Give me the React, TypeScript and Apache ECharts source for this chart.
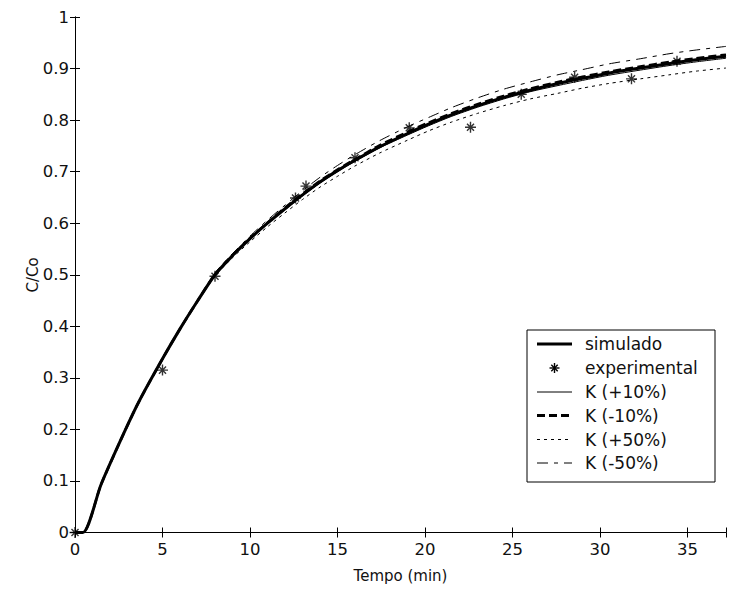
import React, { useEffect, useRef } from "react";
import * as echarts from "echarts";

// Time grid (min) used for the model curves
const tempo = [0, 0.45, 1.5, 2.85, 3.7, 5, 6, 7, 8, 9, 10, 11, 12, 13, 14, 15, 16, 17.4, 19, 20.2, 21.5, 23, 24.5, 26, 27.6, 29, 30.5, 32.3, 34, 35.5, 37.2];
const simulado = [0, 0, 0.094, 0.197, 0.257, 0.337, 0.395, 0.449, 0.5, 0.537, 0.57, 0.6, 0.628, 0.655, 0.68, 0.702, 0.722, 0.748, 0.774, 0.792, 0.81, 0.828, 0.844, 0.858, 0.871, 0.881, 0.891, 0.901, 0.91, 0.917, 0.924];
const kMais10 = [0, 0, 0.094, 0.197, 0.257, 0.337, 0.395, 0.449, 0.5, 0.536, 0.569, 0.599, 0.626, 0.653, 0.678, 0.7, 0.72, 0.746, 0.771, 0.789, 0.807, 0.825, 0.841, 0.855, 0.867, 0.877, 0.887, 0.897, 0.906, 0.913, 0.92];
const kMenos10 = [0, 0, 0.094, 0.197, 0.257, 0.337, 0.395, 0.449, 0.501, 0.538, 0.571, 0.601, 0.63, 0.657, 0.682, 0.704, 0.724, 0.751, 0.777, 0.795, 0.813, 0.831, 0.847, 0.861, 0.874, 0.884, 0.894, 0.904, 0.913, 0.92, 0.927];
const kMais50 = [0, 0, 0.094, 0.197, 0.257, 0.337, 0.395, 0.448, 0.497, 0.533, 0.564, 0.593, 0.62, 0.646, 0.67, 0.691, 0.711, 0.736, 0.761, 0.779, 0.796, 0.813, 0.828, 0.841, 0.852, 0.862, 0.871, 0.88, 0.888, 0.895, 0.901];
const kMenos50 = [0, 0, 0.094, 0.197, 0.257, 0.337, 0.395, 0.45, 0.503, 0.541, 0.575, 0.606, 0.635, 0.663, 0.689, 0.712, 0.733, 0.76, 0.787, 0.805, 0.824, 0.843, 0.86, 0.874, 0.888, 0.898, 0.909, 0.919, 0.929, 0.936, 0.943];

// Experimental points
const tempoExp = [0, 5, 8, 12.6, 13.2, 16, 19.1, 22.6, 25.5, 28.55, 31.8, 34.4];
const cExp = [0, 0.315, 0.497, 0.649, 0.672, 0.727, 0.785, 0.786, 0.85, 0.883, 0.88, 0.914];

const legendNames = ["simulado", "experimental", "K (+10%)", "K (-10%)", "K (+50%)", "K (-50%)"];
const xName = "Tempo (min)";
const yName = "C/Co";

const X_MIN = 0;
const X_MAX = 37.2;
const X_STEP = 5;
const Y_MIN = 0;
const Y_MAX = 1;
const Y_STEP = 0.1;

const FONT = "DejaVu Sans";
const FS_TICK = 16.5;
const FS_NAME = 15;
const FS_LEG = 17;

const STAR = "path://M0,-5L0,5M-5,0L5,0M-3.2,-3.2L3.2,3.2M-3.2,3.2L3.2,-3.2";

const pair = (xs: number[], ys: number[]) => xs.map((x, i) => [x, ys[i]]);

export default function App() {
  const ref = useRef<HTMLDivElement>(null);
  useEffect(() => {
    if (!ref.current) return;
    const chart = echarts.init(ref.current, null, { renderer: "svg" });

    const lx0 = 537;
    const lx1 = 572;
    const tx = 585;
    const rows = [344, 368, 392, 415.5, 439.5, 463];
    const lineStyles = [
      { lineWidth: 3, lineDash: null as any },
      null,
      { lineWidth: 1, lineDash: null as any },
      { lineWidth: 3, lineDash: [8, 4] },
      { lineWidth: 1, lineDash: [3, 4] },
      { lineWidth: 1, lineDash: [11, 6, 4, 6] },
    ];
    const graphic: any[] = [
      {
        type: "text",
        x: 33,
        y: 275,
        rotation: Math.PI / 2,
        style: {
          text: yName,
          fill: "#111",
          font: `${FS_NAME}px "${FONT}"`,
          align: "center",
          verticalAlign: "middle",
        },
      },
      {
        type: "rect",
        shape: { x: 527, y: 330, width: 188, height: 152 },
        style: { fill: "#fff", stroke: "#000", lineWidth: 1 },
        z: 100,
      },
    ];
    legendNames.forEach((name, i) => {
      const y = rows[i];
      const ls = lineStyles[i];
      if (ls) {
        graphic.push({
          type: "line",
          shape: { x1: lx0, y1: y, x2: lx1, y2: y },
          style: { stroke: "#000", lineWidth: ls.lineWidth, lineDash: ls.lineDash || undefined },
          z: 101,
        });
      } else {
        const cx = (lx0 + lx1) / 2;
        const segs = [
          [0, -5, 0, 5],
          [-5, 0, 5, 0],
          [-3.2, -3.2, 3.2, 3.2],
          [-3.2, 3.2, 3.2, -3.2],
        ];
        segs.forEach((s) =>
          graphic.push({
            type: "line",
            shape: { x1: cx + s[0], y1: y + s[1], x2: cx + s[2], y2: y + s[3] },
            style: { stroke: "#000", lineWidth: 1.4 },
            z: 101,
          })
        );
      }
      graphic.push({
        type: "text",
        x: tx,
        y: y,
        style: {
          text: name,
          fill: "#111",
          font: `${FS_LEG}px "${FONT}"`,
          verticalAlign: "middle",
          align: "left",
        },
        z: 101,
      });
    });

    const axisCommon = {
      type: "value" as const,
      axisLine: { show: true, lineStyle: { color: "#000", width: 1 } },
      axisTick: { show: true, inside: true, length: 5, lineStyle: { color: "#000", width: 1 } },
      splitLine: { show: false },
    };

    const lineSeries = (name: string, data: number[], width: number, type: any) => ({
      name,
      type: "line",
      data: pair(tempo, data),
      showSymbol: false,
      symbol: "none",
      smooth: 0.25,
      lineStyle: { color: "#000", width, type },
      z: 3,
    });

    chart.setOption({
      animation: false,
      backgroundColor: "#fff",
      grid: { left: 75, right: 1, top: 17, bottom: 57.5, show: false },
      xAxis: [
        {
          ...axisCommon,
          min: X_MIN,
          max: X_MAX,
          interval: X_STEP,
          position: "bottom",
          name: xName,
          nameLocation: "middle",
          nameGap: 36,
          nameTextStyle: { color: "#111", fontFamily: FONT, fontSize: FS_NAME },
          axisLabel: {
            color: "#111",
            fontFamily: FONT,
            fontSize: FS_TICK,
            margin: 8,
            formatter: (v: number) => (Math.abs(v % X_STEP) < 1e-9 ? String(v) : ""),
          },
        },
        {
          ...axisCommon,
          min: X_MIN,
          max: X_MAX,
          interval: X_STEP,
          position: "top",
          axisLabel: { show: false },
        },
      ],
      yAxis: [
        {
          ...axisCommon,
          min: Y_MIN,
          max: Y_MAX,
          interval: Y_STEP,
          position: "left",
          axisLabel: { color: "#111", fontFamily: FONT, fontSize: FS_TICK, margin: 6 },
        },
        {
          ...axisCommon,
          min: Y_MIN,
          max: Y_MAX,
          interval: Y_STEP,
          position: "right",
          axisLabel: { show: false },
        },
      ],
      series: [
        lineSeries("K (+50%)", kMais50, 1, [3, 4]),
        lineSeries("K (-50%)", kMenos50, 1, [11, 6, 4, 6]),
        lineSeries("K (-10%)", kMenos10, 2.5, [8, 4]),
        lineSeries("K (+10%)", kMais10, 1, "solid"),
        lineSeries("simulado", simulado, 3, "solid"),
        {
          name: "experimental",
          type: "scatter",
          data: pair(tempoExp, cExp),
          symbol: STAR,
          symbolSize: 11,
          itemStyle: { color: "none", borderColor: "#000", borderWidth: 1.4 },
          z: 5,
        },
      ],
      graphic,
    });
    return () => chart.dispose();
  }, []);
  return (
    <div
      ref={ref}
      style={{ position: "fixed", left: 0, top: 0, width: 729, height: 590, background: "#fff" }}
    />
  );
}
